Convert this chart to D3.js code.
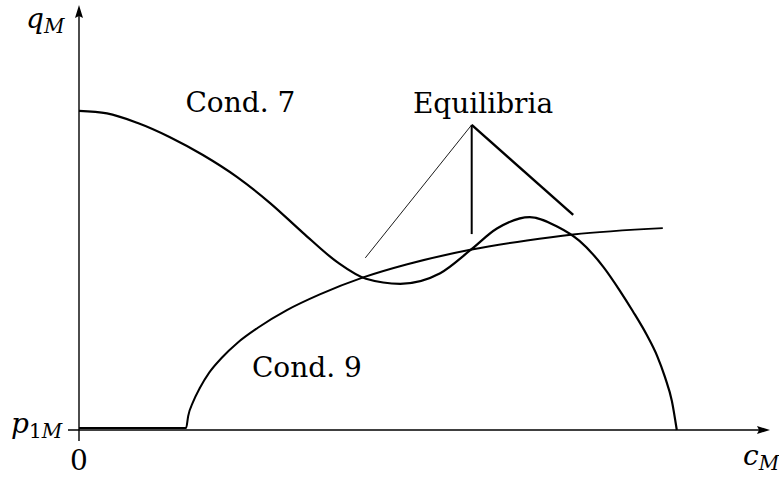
<!DOCTYPE html>
<html><head><meta charset="utf-8">
<script src="https://cdn.jsdelivr.net/npm/d3@7"></script>
<style>
html,body{margin:0;padding:0;background:#fff;}
</style></head>
<body>
<svg id="chart" width="779" height="479" font-family="DejaVu Serif, Liberation Serif, serif"></svg>
<script>
// Condition 7 curve (c_M, q_M)
const cond7X = [0, 4, 8.3, 13.0, 17.7, 22.6, 27.3, 32.0, 36.9, 41.0, 45.9, 51.6, 55.9, 59.7, 64.4, 68.3, 71.5, 74.9, 77.3, 79.1, 81.1, 82.6, 83.7, 84.7, 85.4];
const cond7Y = [75.1, 74.5, 72.3, 68.9, 64.7, 59.5, 53.4, 46.4, 39.5, 35.6, 34.4, 36.9, 42.3, 47.4, 50.1, 47.9, 44.5, 38.4, 32.7, 28.0, 22.4, 17.4, 12.5, 6.8, 0];
// Condition 9 curve
const cond9X = [0, 15.3, 15.6, 16.3, 17.3, 18.6, 20.4, 22.7, 25.5, 29.7, 34.4, 40.6, 46.9, 55.9, 64.0, 70.6, 83.4];
const cond9Y = [0.5, 0.5, 3.3, 6.6, 10.0, 13.5, 17.0, 20.6, 24.0, 28.2, 31.9, 35.9, 39.0, 42.4, 44.6, 46.0, 47.5];
// Equilibria pointer lines: apex and three end points
const apex = [56.1, 71.8];
const pointerEnds = [[40.9, 40.5], [56.1, 46.1], [70.6, 50.6]];
const pointerWidths = [0.9, 2, 2.4];
// Labels
const labels = [
  {t: "Cond. 7", x: 15.2, y: 74.8},
  {t: "Equilibria", x: 47.7, y: 74.6},
  {t: "Cond. 9", x: 24.7, y: 12.5}
];

const svg = d3.select("#chart");
const x = d3.scaleLinear().domain([0, 100]).range([79, 779]);
const y = d3.scaleLinear().domain([0, 100]).range([430, 5]);

// axes
const g = svg.append("g");
g.append("line").attr("x1", 68).attr("x2", 760).attr("y1", y(0)).attr("y2", y(0))
  .attr("stroke", "#000").attr("stroke-width", 1.4);
g.append("line").attr("x1", x(0)).attr("x2", x(0)).attr("y1", 441).attr("y2", 15)
  .attr("stroke", "#000").attr("stroke-width", 1.4);
// arrowheads
g.append("path").attr("d", `M770,${y(0)} L757,${y(0)-4} L759,${y(0)} L757,${y(0)+4} Z`).attr("fill", "#000");
g.append("path").attr("d", `M${x(0)},5 L${x(0)-4},18 L${x(0)},16 L${x(0)+4},18 Z`).attr("fill", "#000");

const line = d3.line().x(d => x(d[0])).y(d => y(d[1])).curve(d3.curveMonotoneX);
const c7 = cond7X.map((v, i) => [v, cond7Y[i]]);
const c9 = cond9X.map((v, i) => [v, cond9Y[i]]);
svg.append("path").attr("d", line(c7)).attr("fill", "none").attr("stroke", "#000").attr("stroke-width", 2.2);
svg.append("path").attr("d", line(c9)).attr("fill", "none").attr("stroke", "#000").attr("stroke-width", 2);

pointerEnds.forEach((p, i) => {
  svg.append("line").attr("x1", x(apex[0])).attr("y1", y(apex[1]))
    .attr("x2", x(p[0])).attr("y2", y(p[1]))
    .attr("stroke", "#000").attr("stroke-width", pointerWidths[i]);
});

labels.forEach(l => {
  svg.append("text").attr("x", x(l.x)).attr("y", y(l.y)).attr("font-size", 28).text(l.t);
});

// axis labels
const qm = svg.append("text").attr("x", 26).attr("y", 28).attr("font-size", 28);
qm.append("tspan").attr("font-style", "italic").text("q");
qm.append("tspan").attr("font-style", "italic").attr("font-size", 20).attr("dy", 5).text("M");

const pm = svg.append("text").attr("x", 11).attr("y", 433).attr("font-size", 28);
pm.append("tspan").attr("font-style", "italic").text("p");
pm.append("tspan").attr("font-size", 20).attr("dy", 5).text("1");
pm.append("tspan").attr("font-style", "italic").attr("font-size", 20).text("M");

svg.append("text").attr("x", x(0)).attr("y", 470).attr("text-anchor", "middle").attr("font-size", 28).text("0");

const cm = svg.append("text").attr("x", 743).attr("y", 465).attr("font-size", 28);
cm.append("tspan").attr("font-style", "italic").text("c");
cm.append("tspan").attr("font-style", "italic").attr("font-size", 20).attr("dy", 5).text("M");
</script>
</body></html>
